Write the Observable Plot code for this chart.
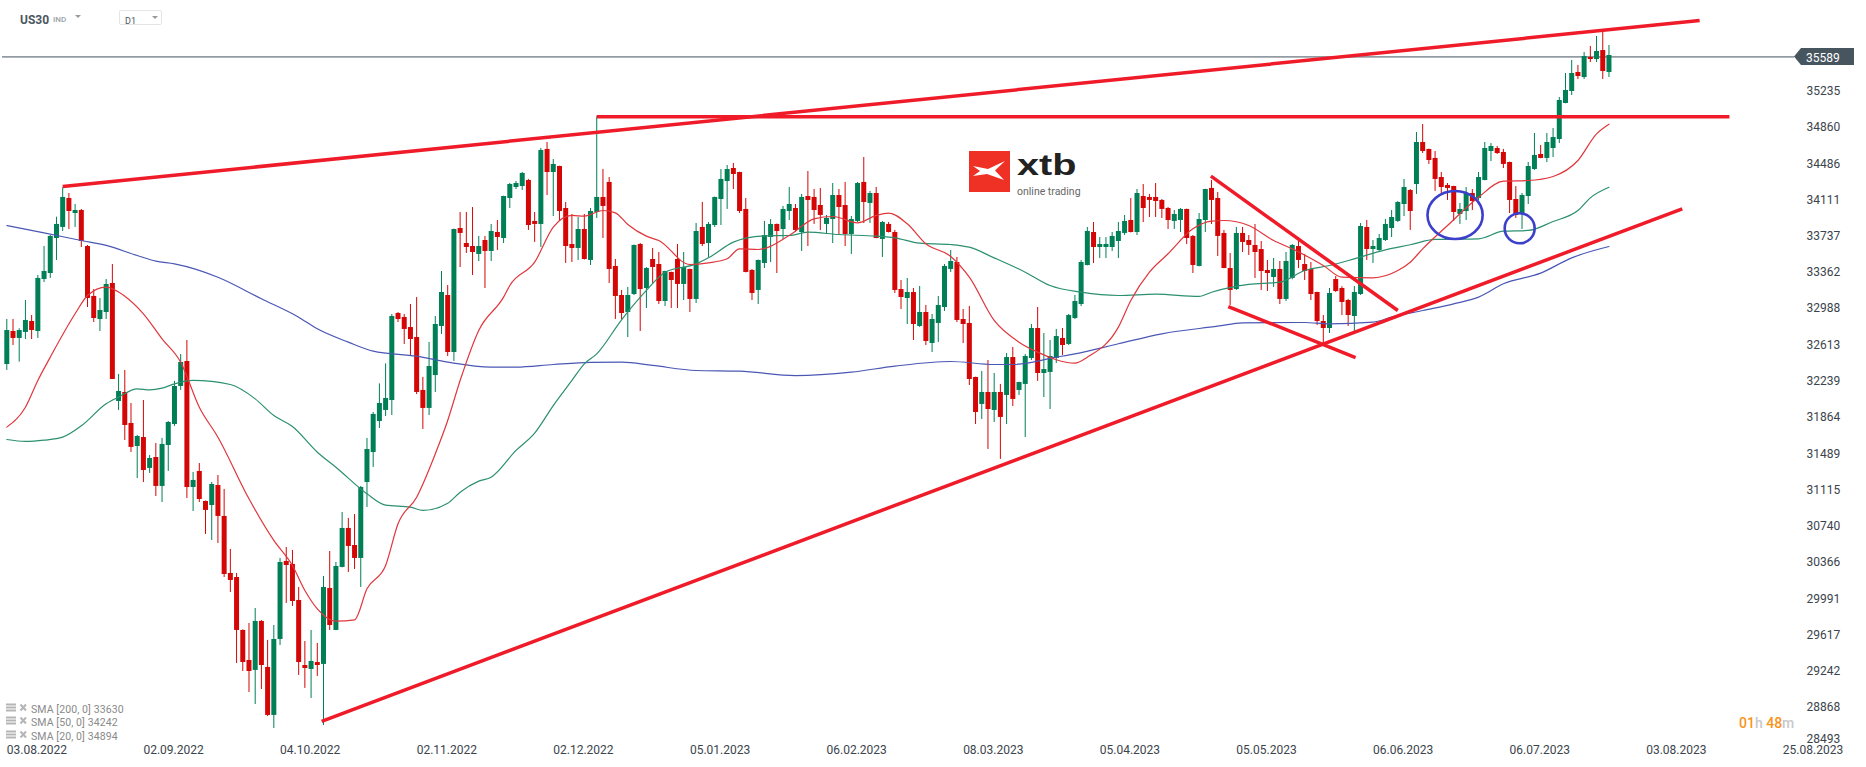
<!DOCTYPE html>
<html><head><meta charset="utf-8">
<script src="https://cdn.jsdelivr.net/npm/d3@7"></script>
<script src="https://cdn.jsdelivr.net/npm/@observablehq/plot@0.6"></script>
<style>
html,body{margin:0;padding:0;background:#fff;overflow:hidden;width:1866px;height:767px;font-family:Roboto,sans-serif}
#wrap{position:relative;width:1866px;height:767px}
#wrap svg.plot{display:block}
.abs{position:absolute;white-space:nowrap;line-height:1}
</style></head><body>
<div id="wrap"></div>
<script>
const opens=[32411,32752,32680,32742,32855,32752,33289,33351,33713,33827,
34126,33971,34002,33630,33114,32876,32948,33248,32029,32122,
31802,31564,31657,31337,31450,31151,31574,31791,32184,32442,
31140,31306,30996,30954,31161,30841,30252,30210,29663,29353,
29250,29756,29281,28785,29570,30376,30345,29973,29301,29260,
29332,29312,30097,29663,30314,30717,30541,30407,31192,31502,
31822,31936,32039,32938,32897,32793,32690,32143,31957,32297,
32804,33124,32535,33816,33661,33630,33548,33692,33579,33775,
33713,34126,34240,34250,34312,33889,33858,34633,34395,34457,
34023,33651,33610,33806,33486,33982,34137,34292,33424,33124,
32948,33134,33651,33196,33496,33444,33062,33362,33496,33238,
33393,33083,33827,33661,33847,34116,34302,34436,34395,34013,
33382,33176,33455,33723,33858,33806,33992,34023,33775,34147,
34137,34054,33858,33909,34157,34054,33754,33889,34292,34075,
34178,33703,33858,33775,33186,33093,33155,32804,32948,32628,
32835,33000,33393,33465,32876,32835,32277,31998,32122,31936,
32122,32091,32483,32143,32205,32473,32783,32318,32329,32473,
32680,32618,32886,33031,33434,33775,33620,33620,33620,33682,
33765,33899,33775,34147,34137,34137,34106,34023,33889,33899,
34013,33734,33424,33899,34230,34126,33765,33403,33186,33765,
33692,33641,33599,33382,33310,33393,33083,33300,33630,33444,
33393,33155,32855,32783,33289,33196,33072,32907,33134,33827,
33599,33589,33692,33816,33889,34064,34209,34271,34705,34633,
34540,34343,34261,34250,33961,33992,34178,34126,34312,34612,
34643,34602,34498,34116,33961,34147,34426,34581,34540,34643,
34736,35108,35232,35428,35376,35583,35562,35655,35428];
const highs=[32876,32876,32780,33072,32917,33331,33630,33744,33933,34236,
34178,34064,34013,33641,33186,33093,33289,33444,32308,32349,
32008,31678,32039,31471,31595,31647,31822,32236,32514,32659,
31295,31388,31000,31192,31264,31120,30500,30252,29670,29735,
29890,29766,29560,29714,30407,30520,30489,30107,29549,29663,
29529,30221,30479,30365,30882,30820,30861,31151,31647,31915,
32211,32418,32928,32948,32928,33031,33103,32277,32638,32907,
33372,33227,33810,33982,33982,34033,33734,33734,33858,33899,
34150,34281,34302,34395,34323,33982,34643,34705,34529,34460,
34085,33961,33930,33961,34023,34970,34426,34343,33496,33176,
33207,33645,33661,33413,33610,33568,33375,33365,33651,33568,
33396,33868,34085,33878,34140,34426,34467,34488,34398,34126,
33393,33490,33889,33909,33862,34044,34240,34064,34168,34405,
34219,34230,33951,34281,34219,34292,33940,34292,34550,34199,
34240,33889,33878,33796,33279,33300,33196,33217,33021,32928,
33114,33444,33589,33517,32979,33010,32280,32339,32452,32318,
32205,32525,32587,32228,32514,32824,33000,32731,32659,32773,
32783,32928,33124,33486,33827,33878,33723,33723,33775,33878,
33951,34126,34219,34271,34168,34281,34116,34033,34002,34023,
34016,33744,33971,34222,34312,34188,33796,33558,33827,33827,
33744,33858,33682,33486,33506,33475,33568,33651,33723,33548,
33465,33158,32917,33196,33320,33214,33083,33217,33868,33899,
33692,33754,33909,34002,34095,34323,34219,34808,34891,34636,
34612,34395,34281,34253,34075,34240,34219,34395,34705,34694,
34664,34633,34502,34250,34178,34498,34798,34674,34798,34850,
35170,35418,35552,35500,35635,35697,35800,35852,35707];
const lows=[32349,32607,32435,32669,32669,32680,33258,33300,33486,33785,
33806,33827,33620,33000,32845,32752,32876,32256,31936,31626,
31502,31233,31192,31285,31047,30985,31306,31771,32143,31027,
30892,30985,30655,30593,30562,30210,30055,29322,29239,29022,
28898,29053,28774,28650,29508,29942,29911,29198,29064,28960,
29188,28681,29663,29660,30310,30262,30293,30107,30934,31347,
31750,31874,31884,32845,32618,32504,32101,31740,31884,32122,
32721,32494,32442,33413,33558,33331,33475,33196,33475,33589,
33661,34023,34219,34209,33796,33672,33620,34157,33940,33889,
33455,33465,33486,33490,33434,33920,33713,33248,32876,32876,
32690,33124,32752,32990,33248,33031,33010,32990,32990,33072,
32948,33041,33630,33517,33827,33847,34013,34219,33971,33358,
33072,33031,33403,33465,33351,33703,33899,33775,33579,33630,
33858,33796,33754,33661,33744,33630,33548,33878,33868,33868,
33710,33517,33770,33145,32979,32824,32659,32793,32607,32535,
32638,32959,33362,32845,32628,32194,31791,31843,31533,31812,
31430,31791,31977,32091,31657,32452,32236,32070,31946,32421,
32504,32607,32876,33010,33430,33455,33506,33506,33579,33506,
33744,33770,33744,33878,33930,33930,33920,33806,33806,33775,
33651,33351,33420,33775,33858,33527,33400,33021,33176,33568,
33537,33300,33176,33165,33207,33031,33062,33286,33403,33279,
33072,32814,32618,32731,33155,32917,32804,32752,33124,33486,
33455,33579,33682,33723,33878,33940,33796,34168,34591,34478,
34199,34168,34106,33889,33858,33899,34002,34106,34309,34508,
34581,34436,33971,33920,33806,34064,34416,34537,34498,34550,
34694,35105,35190,35356,35356,35531,35531,35356,35376];
const closes=[32762,32680,32762,32866,32762,33300,33372,33734,33858,34137,
33992,34002,33682,33093,32886,32969,33238,32256,32132,31781,
31554,31667,31316,31440,31151,31585,31812,32184,32432,31140,
31213,31016,30903,31171,30841,30241,30179,29663,29332,29239,
29756,29301,28785,29570,30365,30334,29962,29332,29270,29343,
29301,30107,29714,30324,30717,30531,30407,31140,31533,31895,
32008,32060,32907,32876,32773,32669,32122,31957,32390,32824,
33155,32535,33806,33765,33620,33568,33630,33579,33785,33723,
34147,34271,34281,34385,33847,33858,34622,34395,34478,33992,
33630,33610,33806,33496,33992,34137,34044,33393,33114,32938,
33124,33641,33186,33403,33413,33062,33372,33279,33238,33413,
33083,33785,33651,33858,34137,34323,34426,34374,33992,33362,
33145,33486,33744,33858,33785,34013,34064,33796,34137,34106,
34002,33951,33920,34157,34033,33754,33909,34281,34085,34178,
33713,33878,33775,33176,33103,33155,32824,32948,32649,32876,
33021,33424,33475,32866,32824,32256,31915,32122,31946,32122,
31864,32483,32050,32225,32494,32783,32318,32359,32494,32700,
32607,32917,33062,33465,33785,33620,33651,33651,33734,33785,
33889,33775,34178,34023,34106,34095,34013,33899,33961,34013,
33713,33434,33909,34219,34106,33734,33403,33176,33765,33672,
33641,33568,33372,33351,33393,33083,33475,33641,33486,33372,
33134,32855,32783,33145,33165,33052,32917,33155,33837,33599,
33630,33713,33858,33930,34085,34240,33992,34705,34612,34519,
34323,34240,34230,33982,34013,34178,34095,34343,34643,34664,
34591,34478,34106,33951,34157,34457,34571,34540,34705,34756,
35139,35242,35418,35387,35593,35562,35645,35438,35604];

const sma200Bars=[0,6,12,16,21,24,27,34,41,47,50,55,59,66,71,78,82,88,94,99,104,111,118,127,136,143,152,159,162,169,172,179,186,195,199,209,213,220,223,228,233,237,241,247,252,258];
const sma200Vals=[33847,33771,33692,33641,33537,33479,33451,33313,33090,32900,32780,32642,32549,32497,32435,32384,32384,32411,32432,32435,32401,32349,32342,32297,32332,32394,32442,32411,32411,32487,32521,32625,32728,32807,32842,32845,32831,32849,32900,32969,33038,33107,33245,33355,33513,33630];
const sma50Bars=[0,3,6,9,12,16,18,21,23,25,27,30,36,40,43,46,50,53,58,61,65,67,71,73,76,78,82,85,88,91,93,95,99,103,106,111,113,117,119,122,126,129,134,140,143,147,152,155,159,164,168,173,179,185,192,194,200,205,209,213,217,222,226,230,237,241,245,249,253,255,258];
const sma50Vals=[31636,31616,31629,31660,31777,32005,32074,32160,32149,32167,32211,32246,32204,32056,31884,31770,31505,31350,31075,30958,30937,30903,30978,31092,31206,31247,31523,31702,31987,32246,32418,32521,32873,33176,33365,33451,33513,33675,33716,33741,33744,33778,33754,33737,33720,33665,33651,33623,33513,33365,33227,33158,33124,33138,33114,33158,33238,33262,33382,33434,33503,33596,33648,33703,33710,33789,33796,33889,34002,34133,34242];
const sma20Bars=[0,3,5,7,11,13,16,19,22,25,28,31,34,39,43,46,48,50,53,56,58,61,63,66,69,71,73,76,80,81,85,88,91,93,96,98,100,103,105,110,113,116,118,121,126,130,133,137,140,142,145,148,152,155,159,163,166,172,174,179,181,184,187,191,194,196,200,204,207,212,215,220,224,226,228,232,237,241,245,249,253,256,258];
const sma20Vals=[31764,31970,32246,32487,32935,33124,33210,33117,32935,32676,32435,31970,31660,31023,30593,30334,30076,29887,29759,29773,30093,30334,30765,31040,31488,31833,32246,32763,33107,33227,33468,33830,33951,33944,34002,33978,33858,33737,33692,33444,33461,33503,33606,33599,33744,33916,33940,33875,33951,33975,33865,33658,33527,33313,32866,32642,32539,32425,32487,32797,33072,33365,33555,33813,33892,33899,33847,33692,33606,33434,33313,33307,33382,33468,33606,33847,34140,34305,34312,34354,34519,34794,34894];

const drawnFromBar=[9,95,50.7,193.9,196.7];
const drawnFromVal=[34250,34970,28723,34357,33010];
const drawnToBar=[272.6,277.4,269.8,224,217.2];
const drawnToVal=[35965,34970,34020,32969,32483];

const ringBars=[233.3,243.7];
const ringVals=[33951,33813];
const ringRx=[27.6,15];
const ringRy=[24,15];

const xTicks=[0,22,44,66,88,110,132,154,176,198,220,242,264,286];
const xLabels=["03.08.2022","02.09.2022","04.10.2022","02.11.2022","02.12.2022","05.01.2023","06.02.2023","08.03.2023","05.04.2023","05.05.2023","06.06.2023","06.07.2023","03.08.2023","25.08.2023"];
const yTicks=[35235,34860,34486,34111,33737,33362,32988,32613,32239,31864,31489,31115,30740,30366,29991,29617,29242,28868];
const yTickLast=[28493];
const lastPrice=35589;
const smaLegend=[["SMA [200, 0] 33630"],["SMA [50, 0] 34242"],["SMA [20, 0] 34894"]];

const bars=opens.map((o,i)=>({i,o,h:highs[i],l:lows[i],c:closes[i]}));
const up=bars.filter(d=>d.c>=d.o), down=bars.filter(d=>d.c<d.o);
const GREEN="#007f56", RED="#d40606", ANN="#ef1b29", INK="#3b444c";
const series=(b,v)=>b.map((x,k)=>({x,y:v[k]}));
const drawn=drawnFromBar.map((x,k)=>({x1:x,y1:drawnFromVal[k],x2:drawnToBar[k],y2:drawnToVal[k]}));

const candle=(data,color)=>[
  Plot.ruleX(data,{x:"i",y1:"l",y2:"h",stroke:color,strokeWidth:1}),
  Plot.ruleX(data,{x:"i",y1:"o",y2:"c",stroke:color,strokeWidth:5})
];
const rings=(index,scales)=>{
  const g=d3.create("svg:g");
  ringBars.forEach((b,k)=>g.append("ellipse")
    .attr("cx",scales.x(b)).attr("cy",scales.y(ringVals[k]))
    .attr("rx",ringRx[k]).attr("ry",ringRy[k])
    .attr("fill","none").attr("stroke","#3b3fc9").attr("stroke-width",2.6));
  return g.node();
};

const chart=Plot.plot({
  width:1866,height:767,
  marginLeft:0,marginRight:60,marginTop:0,marginBottom:22,
  style:{background:"transparent",fontFamily:"Roboto, sans-serif"},
  x:{domain:[-1.014,289.81],axis:null},
  y:{domain:[28247,36172],range:[767,0],axis:null},
  marks:[
    Plot.ruleY([lastPrice],{x1:-0.7,x2:287.9,stroke:"#44525e",strokeWidth:1}),
    ...candle(down,RED),
    ...candle(up,GREEN),
    Plot.line(series(sma200Bars,sma200Vals),{x:"x",y:"y",stroke:"#4a57b5",strokeWidth:1.2,curve:"monotone-x"}),
    Plot.line(series(sma50Bars,sma50Vals),{x:"x",y:"y",stroke:"#2b9070",strokeWidth:1.2,curve:"monotone-x"}),
    Plot.line(series(sma20Bars,sma20Vals),{x:"x",y:"y",stroke:"#e0363c",strokeWidth:1.2,curve:"monotone-x"}),
    Plot.link(drawn,{x1:"x1",y1:"y1",x2:"x2",y2:"y2",stroke:ANN,strokeWidth:3.5}),
    rings,
    Plot.axisY({anchor:"right",ticks:yTicks,tickSize:0,tickPadding:0,tickFormat:String,label:null,fill:INK,fontSize:12}),
    Plot.axisY({anchor:"right",ticks:yTickLast,tickSize:0,tickPadding:0,tickFormat:String,label:null,fill:INK,fontSize:12,dy:-5}),
    Plot.axisX({anchor:"bottom",ticks:xTicks,tickSize:0,tickPadding:0,textAnchor:"start",tickFormat:d=>xLabels[xTicks.indexOf(d)],label:null,fill:INK,fontSize:12})
  ]
});
const wrap=document.getElementById("wrap");
wrap.appendChild(chart);

const add=(css,html)=>{const e=document.createElement("div");e.className="abs";e.style.cssText=css;e.innerHTML=html;wrap.appendChild(e);return e;};
const tri=(x,y)=>add(`left:${x}px;top:${y}px;width:0;height:0;border-left:3.5px solid transparent;border-right:3.5px solid transparent;border-top:3.5px solid #9a9a9a`,"");
// header
add("left:20px;top:13px;font:700 12px Roboto,sans-serif;color:#4a5660","US30");
add("left:53px;top:15px;font:500 8px Roboto,sans-serif;color:#9aa0a6","IND");
tri(75,15);
add("left:119px;top:10px;width:43px;height:15px;border:1px solid #e3e6e8;border-radius:2px;box-sizing:border-box","");
add("left:125px;top:15.5px;font:400 9px Roboto,sans-serif;color:#4a5660","D1");
tri(152,16);
// price tag
add("left:1794px;top:48px;width:60px;height:17px;background:#47555f;clip-path:polygon(0 50%,7px 0,100% 0,100% 100%,7px 100%)","");
add("left:1806px;top:51px;font:400 12px Roboto,sans-serif;color:#fff",String(lastPrice));
// logo
add("left:969px;top:151px;width:41px;height:41px","<svg width='41' height='41' viewBox='0 0 41 41' style='display:block'><rect width='41' height='41' fill='#ee3124'/><path d='M4 15 L19 18 L36 10 L26 19.5 L35 29 L18 23 L4 25 L11 20 Z' fill='#fff'/></svg>");
add("left:1017px;top:148px;font:700 30px 'Liberation Sans',Arial,sans-serif;color:#222;transform:scaleX(1.32);transform-origin:0 0","xtb");
add("left:1017px;top:184.5px;font:400 10.5px Roboto,sans-serif;color:#666","online trading");
// SMA legend
const icon="<svg width='22' height='10' style='position:absolute;left:-25px;top:0'><g stroke='#b5b5b5'><path d='M0 1.5H10M0 4.5H10M0 7.5H10' stroke-width='2'/><path d='M14.5 1.5L20 7.5M20 1.5L14.5 7.5' stroke-width='2'/></g></svg>";
smaLegend.forEach((t,k)=>add(`left:31px;top:${702.5+k*13.6}px;font:400 10.5px Roboto,sans-serif;color:#8a8a8a;letter-spacing:.1px`,icon+t[0]));
// timer
add("left:1739px;top:715px;font:500 14px Roboto,sans-serif;color:#f7941d","01<span style='color:#c8c8c8'>h</span> 48<span style='color:#c8c8c8'>m</span>");
</script>
</body></html>
